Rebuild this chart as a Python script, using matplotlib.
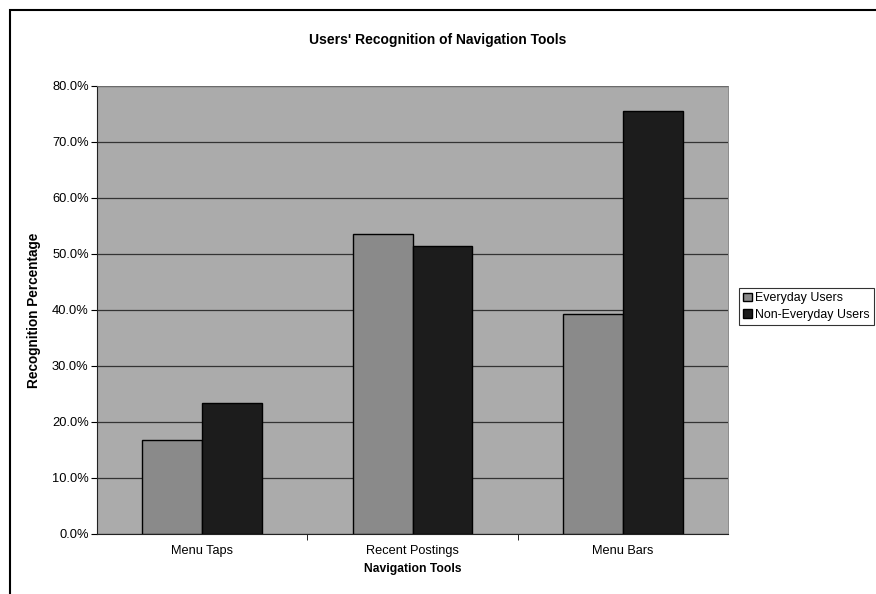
import matplotlib.pyplot as plt
import numpy as np
from matplotlib.patches import Rectangle

categories = ['Menu Taps', 'Recent Postings', 'Menu Bars']
everyday = [16.7, 53.5, 39.3]
non_everyday = [23.4, 51.5, 75.6]
series_names = ['Everyday Users', 'Non-Everyday Users']

plt.rcParams['font.family'] = ['Liberation Sans', 'DejaVu Sans']

fig = plt.figure(figsize=(8.76, 5.94), dpi=100)
ax = fig.add_axes([97/876, 60/594, 631/876, 448/594])

x = np.arange(len(categories))
w = 0.285
ax.bar(x - w/2, everyday, w, color='#8a8a8a', edgecolor='black', linewidth=1.0,
       label=series_names[0], zorder=3)
ax.bar(x + w/2, non_everyday, w, color='#1c1c1c', edgecolor='black', linewidth=1.0,
       label=series_names[1], zorder=3)

ax.set_facecolor('#ababab')
ax.set_xlim(-0.5, 2.5)
ax.set_ylim(0, 80)
ax.set_yticks(np.arange(0, 81, 10))
ax.set_yticklabels([f'{v:.1f}%' for v in np.arange(0, 81, 10)], fontsize=9.3)
ax.set_xticks(x)
ax.set_xticklabels(categories, fontsize=9.2)
ax.set_xticks([0.5, 1.5], minor=True)
ax.tick_params(axis='x', which='major', length=0, pad=8)
ax.tick_params(axis='x', which='minor', length=4, direction='out')
ax.tick_params(axis='y', length=4, direction='out', pad=2)
ax.yaxis.grid(True, color='#333333', linewidth=0.9, zorder=1)
ax.set_axisbelow(True)
for s in ['left', 'bottom']:
    ax.spines[s].set_color('#222222')
for s in ['top', 'right']:
    ax.spines[s].set_color('#777777')
    ax.spines[s].set_linewidth(0.6)

ax.set_xlabel('Navigation Tools', fontsize=8.7, fontweight='bold', labelpad=4)
ax.set_ylabel('Recognition Percentage', fontsize=9.8, fontweight='bold', labelpad=8)
fig.text(0.5, 1 - 40/594, "Users' Recognition of Navigation Tools", ha='center', va='center',
         fontsize=10, fontweight='bold')

leg = fig.legend(loc='upper left', bbox_to_anchor=(739/876, 1 - 288/594), fontsize=8.9,
                 frameon=True, fancybox=False, edgecolor='black', handlelength=0.7,
                 handleheight=0.7, handletextpad=0.25, borderpad=0.35, labelspacing=0.35,
                 borderaxespad=0)
leg.get_frame().set_linewidth(0.8)

fig.patches.append(Rectangle((10/876, -0.05), 1.2, 1 - 10/594 + 0.05, transform=fig.transFigure,
                             fill=False, edgecolor='black', linewidth=1.5))

fig.savefig('out.png', dpi=100)
